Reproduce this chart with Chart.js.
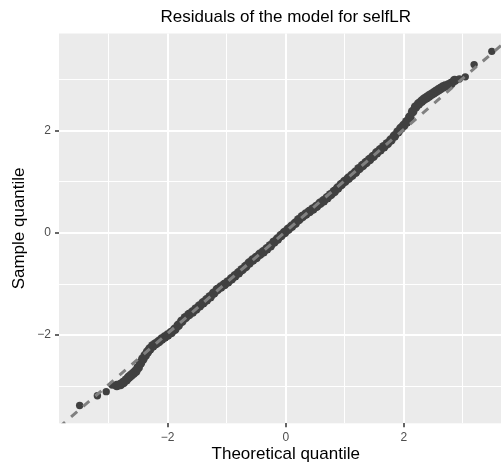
<!DOCTYPE html>
<html>
<head>
<meta charset="utf-8">
<script src="https://cdn.jsdelivr.net/npm/chart.js@4/dist/chart.umd.min.js"></script>
<style>
  body { margin: 0; background: #fff; }
  #wrap { width: 501px; height: 465px; overflow: hidden; }
</style>
</head>
<body>
<div id="wrap"><canvas id="qq" width="518" height="465"></canvas></div>
<script>
// quantili teorici (asse x) e residui ordinati (asse y)
const theoretical = [
  -3.49, -3.19, -3.04, -2.94, -2.86, -2.80, -2.75, -2.70, -2.66, -2.62,
  -2.58, -2.54, -2.50, -2.46, -2.42, -2.38, -2.34, -2.30, -2.25, -2.20,
  -2.15, -2.10, -2.05, -2.00, -1.94, -1.88, -1.82, -1.76, -1.70, -1.64,
  -1.58, -1.52, -1.46, -1.40, -1.34, -1.28, -1.22, -1.16, -1.10, -1.04,
  -0.98, -0.92, -0.86, -0.80, -0.74, -0.68, -0.62, -0.56, -0.50, -0.44,
  -0.38, -0.32, -0.26, -0.20, -0.14, -0.08, -0.02, 0.04, 0.10, 0.16,
  0.22, 0.28, 0.34, 0.40, 0.46, 0.52, 0.58, 0.64, 0.70, 0.76,
  0.82, 0.88, 0.94, 1.00, 1.06, 1.12, 1.18, 1.24, 1.30, 1.36,
  1.42, 1.48, 1.54, 1.60, 1.66, 1.72, 1.78, 1.84, 1.90, 1.95,
  2.00, 2.05, 2.10, 2.15, 2.20, 2.25, 2.30, 2.34, 2.38, 2.42,
  2.46, 2.50, 2.54, 2.58, 2.62, 2.66, 2.70, 2.75, 2.80, 2.86,
  2.94, 3.04, 3.19, 3.49
];
const sample = [
  -3.38, -3.19, -3.11, -2.98, -2.99, -2.97, -2.93, -2.88, -2.83, -2.79,
  -2.75, -2.71, -2.64, -2.55, -2.47, -2.40, -2.33, -2.27, -2.21, -2.17,
  -2.13, -2.08, -2.04, -2.00, -1.95, -1.89, -1.81, -1.73, -1.66, -1.60,
  -1.55, -1.49, -1.43, -1.37, -1.31, -1.25, -1.18, -1.11, -1.06, -1.01,
  -0.96, -0.90, -0.84, -0.78, -0.72, -0.66, -0.59, -0.53, -0.48, -0.42,
  -0.37, -0.31, -0.25, -0.18, -0.12, -0.05, 0.01, 0.07, 0.13, 0.19,
  0.26, 0.32, 0.37, 0.42, 0.47, 0.52, 0.58, 0.63, 0.69, 0.75,
  0.81, 0.88, 0.95, 1.01, 1.07, 1.13, 1.19, 1.26, 1.32, 1.38,
  1.44, 1.50, 1.57, 1.63, 1.69, 1.75, 1.82, 1.90, 1.98, 2.05,
  2.11, 2.18, 2.27, 2.38, 2.47, 2.53, 2.58, 2.62, 2.65, 2.68,
  2.71, 2.74, 2.77, 2.80, 2.83, 2.86, 2.88, 2.90, 2.93, 2.99,
  3.02, 3.06, 3.30, 3.56
];

// retta di riferimento (qqline)
const lineIntercept = 0.03;
const lineSlope = 1.0;

// limiti degli assi e tacche
const xLimits = [-3.84, 3.84];
const yLimits = [-3.73, 3.91];
const xTickValues = [-3, -2, -1, 0, 1, 2, 3];
const yTickValues = [-3, -2, -1, 0, 1, 2, 3];

const points = theoretical.map((t, i) => ({ x: t, y: sample[i] }));
const refLine = xLimits.map(x => ({ x: x, y: lineIntercept + lineSlope * x }));

const isMajor = v => v % 2 === 0;
const fmt = v => (v < 0 ? '\u2212' + Math.abs(v) : String(v));

// sfondo grigio del pannello, stile ggplot
const panelBg = {
  id: 'panelBg',
  beforeDraw(chart) {
    const { ctx, chartArea: a } = chart;
    ctx.save();
    ctx.fillStyle = '#ffffff';
    ctx.fillRect(0, 0, chart.width, chart.height);
    ctx.fillStyle = '#EBEBEB';
    ctx.fillRect(a.left, a.top, a.right - a.left, a.bottom - a.top);
    ctx.restore();
  }
};

function axisOptions(limits, tickValues, titleText, isX) {
  return {
    type: 'linear',
    min: limits[0],
    max: limits[1],
    afterBuildTicks: scale => { scale.ticks = tickValues.map(v => ({ value: v })); },
    afterFit: scale => {
      if (isX) scale.height = 41.7;
      else scale.width = 59;
    },
    border: { display: false },
    grid: {
      color: '#ffffff',
      lineWidth: c => (isMajor(c.tick.value) ? 2 : 1),
      drawTicks: true,
      tickLength: 4,
      tickWidth: 1.5,
      tickColor: c => (isMajor(c.tick.value) ? '#333333' : 'rgba(0,0,0,0)')
    },
    ticks: {
      autoSkip: false,
      maxRotation: 0,
      padding: isX ? 3 : 4,
      color: '#4D4D4D',
      font: { family: 'Liberation Sans', size: 12 },
      callback: v => (isMajor(v) ? fmt(v) : '')
    },
    title: {
      display: true,
      text: titleText,
      color: '#000000',
      font: { family: 'Liberation Sans', size: 17, lineHeight: 1.2 },
      padding: isX ? { top: 0, bottom: 0 } : { top: 9.5, bottom: 0 }
    }
  };
}

new Chart(document.getElementById('qq'), {
  type: 'scatter',
  data: {
    datasets: [
      {
        type: 'line',
        label: 'qqline',
        data: refLine,
        borderColor: '#808080',
        borderWidth: 3,
        borderDash: [8, 8],
        pointRadius: 0,
        fill: false,
        order: 0
      },
      {
        label: 'residui',
        data: points,
        backgroundColor: '#404040',
        borderWidth: 0,
        // nel centro i punti (~2000) si sovrappongono: banda più spessa
        pointRadius: c => (Math.abs(c.raw.x) > 2.9 ? 3.7 : 4.8),
        order: 1
      }
    ]
  },
  options: {
    responsive: false,
    animation: false,
    events: [],
    devicePixelRatio: 1,
    layout: { padding: { left: 0, right: 5.5, top: 0, bottom: 0 } },
    scales: {
      x: axisOptions(xLimits, xTickValues, 'Theoretical quantile', true),
      y: axisOptions(yLimits, yTickValues, 'Sample quantile', false)
    },
    plugins: {
      legend: { display: false },
      tooltip: { enabled: false },
      title: {
        display: true,
        text: 'Residuals of the model for selfLR',
        fullSize: false,
        color: '#000000',
        font: { family: 'Liberation Sans', size: 17, weight: 'normal', lineHeight: 1.2 },
        padding: { top: 7.2, bottom: 5.9 }
      }
    }
  },
  plugins: [panelBg]
});
</script>
</body>
</html>
